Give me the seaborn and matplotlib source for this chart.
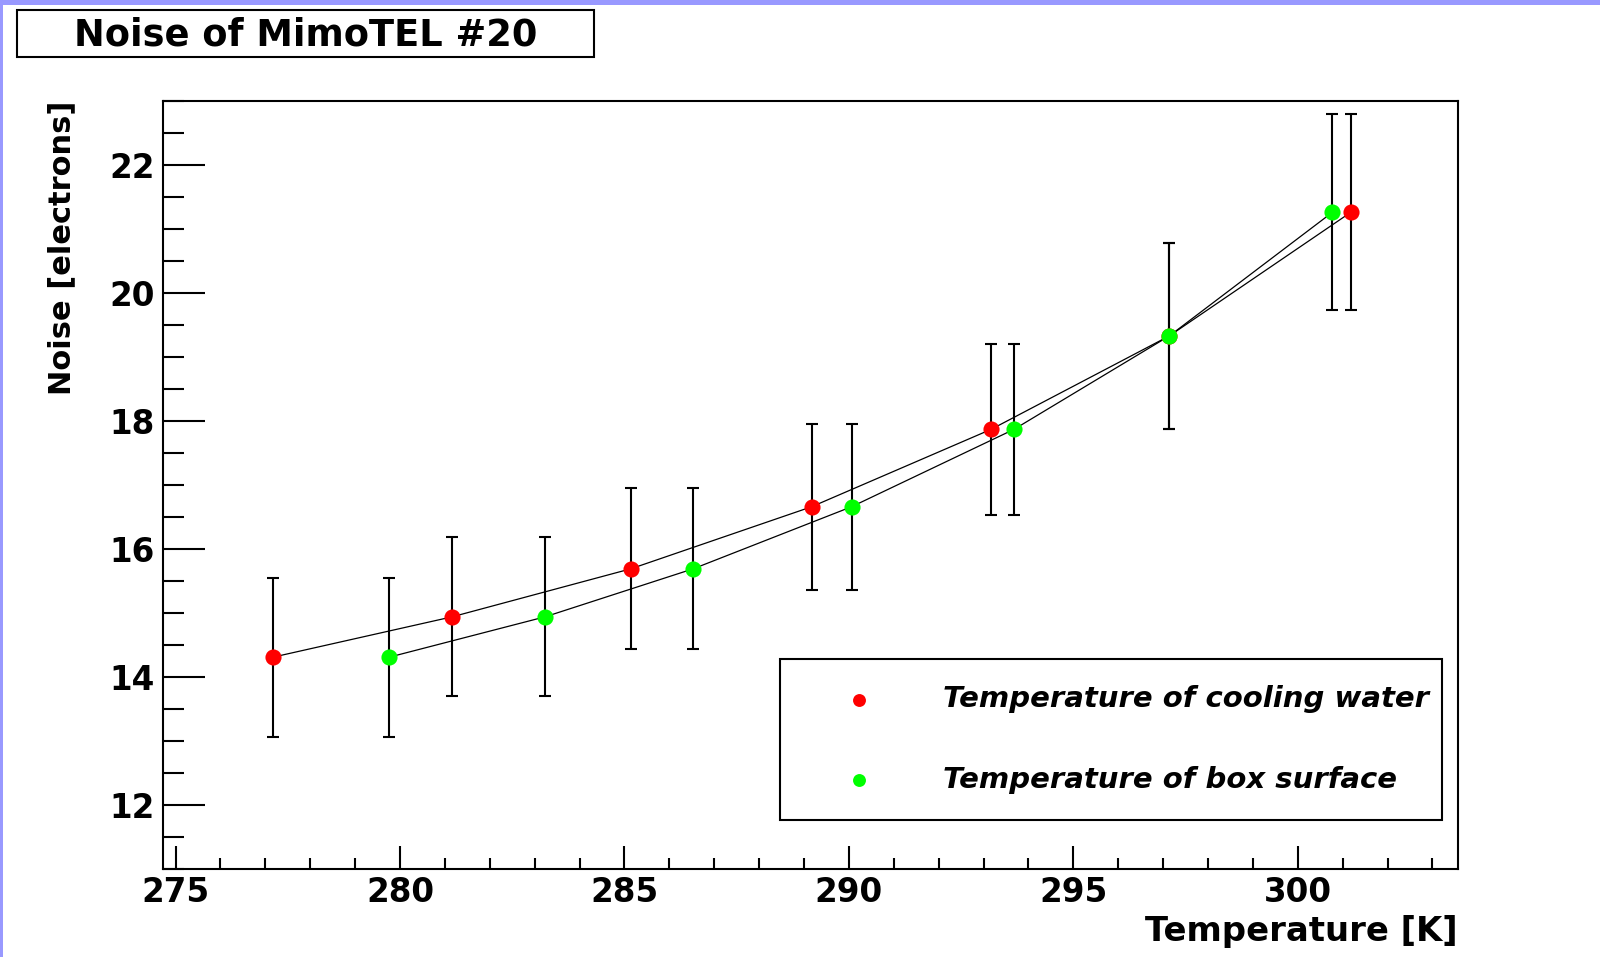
import numpy as np
import pandas as pd
import matplotlib
matplotlib.use("Agg")
import matplotlib.pyplot as plt
from matplotlib.ticker import MultipleLocator
from matplotlib.patches import Rectangle
import seaborn as sns

# Temperature readings of the two probes at each measurement step [K]
water_temp = [277.17, 281.16, 285.14, 289.17, 293.17, 297.14, 301.18]
box_temp = [279.76, 283.23, 286.53, 290.06, 293.68, 297.14, 300.77]
# Noise measured at each step [electrons] and its uncertainty
noise = [14.31, 14.94, 15.69, 16.66, 17.87, 19.33, 21.26]
noise_err = [1.24, 1.24, 1.26, 1.30, 1.34, 1.45, 1.53]

series_labels = ["Temperature of cooling water", "Temperature of box surface"]
series_colors = ["#ff0000", "#00ff00"]
x_ticks = [275, 280, 285, 290, 295, 300]
y_ticks = [12, 14, 16, 18, 20, 22]
plot_title = "Noise of MimoTEL #20"
x_title = "Temperature [K]"
y_title = "Noise [electrons]"

sns.set_style("white")
plt.rcParams["font.family"] = ["DejaVu Sans"]
plt.rcParams.update({
    "text.color": "black",
    "axes.labelcolor": "black",
    "xtick.color": "black",
    "ytick.color": "black",
    "axes.edgecolor": "black",
})

W, H = 1600, 957
fig = plt.figure(figsize=(W / 100, H / 100), dpi=100)
fig.patch.set_facecolor("white")

# canvas border strips
fig.add_artist(Rectangle((0, 1 - 5 / H), 1, 5 / H, transform=fig.transFigure,
                         facecolor="#9999ff", edgecolor="none"))
fig.add_artist(Rectangle((0, 0), 3 / W, 1, transform=fig.transFigure,
                         facecolor="#9999ff", edgecolor="none"))

# title box
fig.add_artist(Rectangle((17 / W, 1 - 57 / H), (594 - 17) / W, (57 - 10) / H,
                         transform=fig.transFigure, fill=False,
                         edgecolor="black", linewidth=1.5))
fig.text((17 + 594) / 2 / W, 1 - 35 / H, plot_title, ha="center", va="center",
         fontsize=26.5, fontweight="bold", color="black")

ax = fig.add_axes([163 / W, 1 - 869 / H, (1458 - 163) / W, (869 - 101) / H])

for temps, label, color in zip([water_temp, box_temp], series_labels, series_colors):
    df = pd.DataFrame({"temp": temps, "noise": noise, "err": noise_err})
    sns.lineplot(data=df, x="temp", y="noise", sort=False, estimator=None,
                 color="black", linewidth=0.9, ax=ax, zorder=2)
    ax.errorbar(df["temp"], df["noise"], yerr=df["err"], fmt="none",
                ecolor="black", elinewidth=1.5, capsize=4.5, capthick=1.5,
                zorder=2)
    sns.scatterplot(data=df, x="temp", y="noise", color=color, s=135,
                    linewidth=0, marker="o", ax=ax, zorder=3, label=label)

ax.set_xlim(274.72, 303.57)
ax.set_ylim(11.0, 23.0)
ax.set_xticks(x_ticks)
ax.set_yticks(y_ticks)
ax.xaxis.set_minor_locator(MultipleLocator(1))
ax.yaxis.set_minor_locator(MultipleLocator(0.5))

for s in ax.spines.values():
    s.set_visible(True)
    s.set_color("black")
    s.set_linewidth(1.5)

ax.tick_params(which="both", direction="in", bottom=True, left=True,
               top=False, right=False, width=1.5, color="black",
               labelcolor="black")
ax.tick_params(axis="x", which="major", length=16.5, pad=5)
ax.tick_params(axis="x", which="minor", length=8)
ax.tick_params(axis="y", which="major", length=30, pad=6)
ax.tick_params(axis="y", which="minor", length=15)
for lab in ax.get_xticklabels() + ax.get_yticklabels():
    lab.set_fontsize(23.5)
    lab.set_fontweight("bold")

ax.set_xlabel(x_title, fontsize=24.4, fontweight="bold", color="black")
ax.xaxis.label.set(ha="right", va="center")
ax.xaxis.set_label_coords(1.0, -(931 - 869) / 768)

ax.set_ylabel(y_title, fontsize=22, fontweight="bold", color="black")
ax.yaxis.label.set(rotation_mode="default", ha="center", va="top")
ax.yaxis.set_label_coords((62 - 163) / 1295, 1.0)

leg = ax.legend(loc="center", bbox_to_anchor=(780 / W, 1 - 822 / H,
                                               (1442 - 780) / W, (822 - 657) / H),
                bbox_transform=fig.transFigure, mode="expand",
                prop={"weight": "bold", "style": "italic", "size": 21},
                frameon=True, fancybox=False, framealpha=1, edgecolor="black",
                borderaxespad=0, borderpad=0.9, labelspacing=1.8,
                handlelength=3.6, handletextpad=1.1, markerscale=0.8)
leg.get_frame().set_linewidth(1.5)
for t in leg.get_texts():
    t.set_color("black")

fig.savefig("out.png", dpi=100, facecolor="white")
